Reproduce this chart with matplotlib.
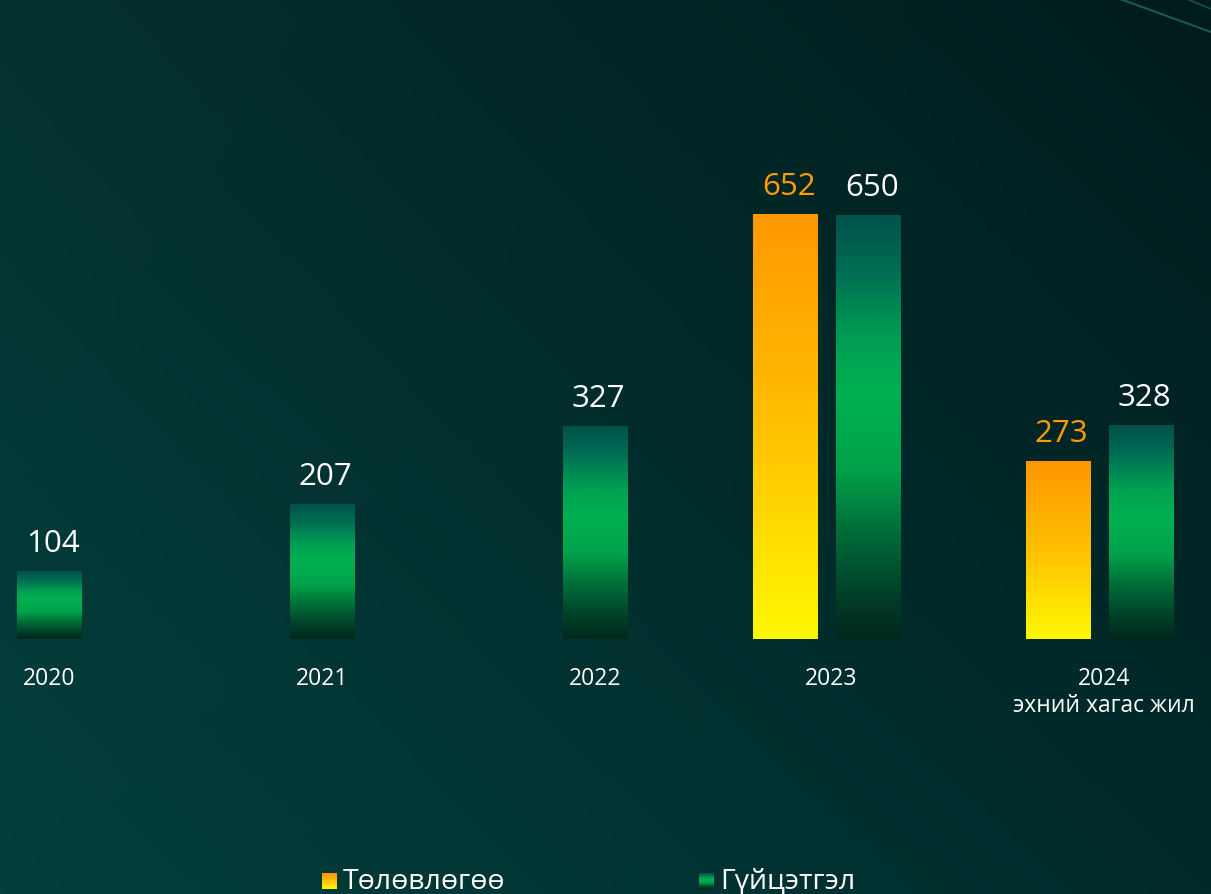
import numpy as np
import matplotlib.pyplot as plt
from matplotlib.colors import LinearSegmentedColormap, to_rgb

plt.rcParams['font.family'] = ['Open Sans', 'DejaVu Sans']

years = ["2020", "2021", "2022", "2023", "2024\nэхний хагас жил"]
plan = [None, None, None, 652, 273]        # Төлөвлөгөө
actual = [104, 207, 327, 650, 328]         # Гүйцэтгэл

W, H = 1211, 895
fig = plt.figure(figsize=(W / 100, H / 100), dpi=100)
ax = fig.add_axes([0, 0, 1, 1])
ax.set_axis_off()

# pixel-based layout: slot spacing 273 px, 0.652 px per unit, baseline at y=640
slot_px, unit_px, base_px, x0_px = 273, 0.652, 640, 49.5
xl = (-x0_px / slot_px, (W - x0_px) / slot_px)
yl = (-(H - base_px) / unit_px, base_px / unit_px)
ax.set_xlim(*xl)
ax.set_ylim(*yl)

# background gradient (four corners)
tl, tr = np.array(to_rgb("#04312f")), np.array(to_rgb("#001b1c"))
bl, br = np.array(to_rgb("#023f3d")), np.array(to_rgb("#002b2b"))
u = np.linspace(0, 1, 200)[None, :, None]
v = np.linspace(0, 1, 150)[:, None, None]
bg = (1 - v) * ((1 - u) * tl + u * tr) + v * ((1 - u) * bl + u * br)
ax.imshow(bg, extent=[xl[0], xl[1], yl[0], yl[1]], aspect='auto', zorder=0, origin='upper')

# faint diagonal lines at top right
ax.plot([(1120 - x0_px) / slot_px, (1211 - x0_px) / slot_px],
        [base_px / unit_px, (base_px - 33) / unit_px], color="#1f7a60", lw=1.5, alpha=0.7, zorder=1)
ax.plot([(1187 - x0_px) / slot_px, (1211 - x0_px) / slot_px],
        [base_px / unit_px, (base_px - 10) / unit_px], color="#1f7a60", lw=1.2, alpha=0.6, zorder=1)

green_cmap = LinearSegmentedColormap.from_list("g", [
    (0.0, "#00524b"), (0.12, "#006a52"), (0.3, "#00a052"), (0.42, "#00b050"),
    (0.6, "#00a24a"), (0.75, "#006c38"), (0.9, "#013f28"), (1.0, "#02271c")])
orange_cmap = LinearSegmentedColormap.from_list("o", ["#ff9800", "#ffc000", "#fff800"])

bw = 65 / slot_px
off = 83 / slot_px
x = np.arange(len(years))

def fill(bars, cmap):
    grad = np.linspace(0, 1, 256)[:, None]
    for p in bars:
        if p.get_height() <= 0:
            continue
        im = ax.imshow(grad, cmap=cmap, aspect='auto', zorder=3,
                       extent=[p.get_x(), p.get_x() + p.get_width(), 0, p.get_height()])
        im.set_clip_path(p)

act_bars = ax.bar(x, actual, width=bw, color="none", zorder=2)
fill(act_bars, green_cmap)
px = [i - off for i, v in enumerate(plan) if v is not None]
pv = [v for v in plan if v is not None]
plan_bars = ax.bar(px, pv, width=bw, color="none", zorder=2)
fill(plan_bars, orange_cmap)

for xi, v in zip(x, actual):
    ax.annotate(str(v), (xi + 0.012, v), xytext=(0, 13), textcoords='offset pixels',
                ha='center', va='bottom', color='white', fontsize=22.5, zorder=5)
for xi, v in zip(px, pv):
    ax.annotate(str(v), (xi + 0.012, v), xytext=(0, 13), textcoords='offset pixels',
                ha='center', va='bottom', color='#ff9c00', fontsize=22.5, zorder=5)

for i, lab in enumerate(years):
    xc = i - (0.137 if plan[i] is not None else 0)
    ax.annotate(lab, (xc, 0), xytext=(0, -27), textcoords='offset pixels',
                ha='center', va='top', color='white', fontsize=16.5, zorder=5,
                linespacing=1.15)

# legend
def legend_item(xp, cmap, label):
    grad = np.linspace(0, 1, 64)[:, None]
    x0 = (xp - x0_px) / slot_px
    x1 = (xp + 15 - x0_px) / slot_px
    ax.imshow(grad, cmap=cmap, aspect='auto', zorder=5,
              extent=[x0, x1, (base_px - 890) / unit_px, (base_px - 874) / unit_px])
    ax.text((xp + 21 - x0_px) / slot_px, (base_px - 882) / unit_px, label,
            color='white', fontsize=20.5, va='center', ha='left', zorder=5)

legend_item(322, orange_cmap, "Төлөвлөгөө")
legend_item(699, green_cmap, "Гүйцэтгэл")

fig.savefig("out.png", dpi=100)
